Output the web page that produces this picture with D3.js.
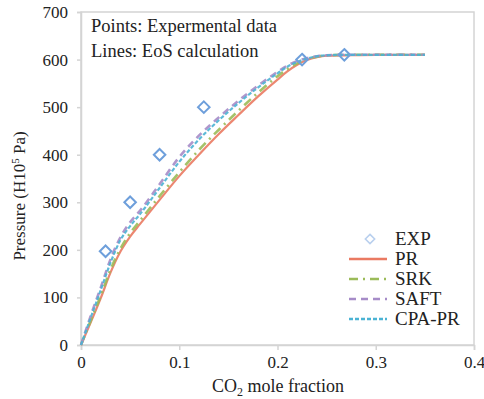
<!DOCTYPE html>
<html>
<head>
<meta charset="utf-8">
<script src="https://cdn.jsdelivr.net/npm/d3@7"></script>
<style>
  body { margin: 0; background: #fff; }
  svg text { font-family: "Liberation Serif", "DejaVu Serif", serif; fill: #222; }
</style>
</head>
<body>
<div id="chart"></div>
<script>
// Data
const expX = [0.025, 0.05, 0.08, 0.125, 0.225, 0.268];
const expP = [197, 300, 400, 500, 600, 610];

const calcX = [0, 0.01, 0.02, 0.03, 0.04, 0.05, 0.06, 0.08, 0.1, 0.12, 0.14, 0.16, 0.18, 0.2, 0.21, 0.22, 0.23, 0.24, 0.25, 0.27, 0.3, 0.35];
const prP   = [0, 48, 98, 152, 196, 228, 254, 305, 355, 400, 443, 483, 522, 558, 575, 589, 599, 605, 608, 609, 610, 610];
const srkP  = [0, 52, 103, 158, 202, 235, 261, 313, 363, 410, 452, 492, 530, 565, 580, 592, 601, 606, 609, 610, 610, 610];
const saftP = [0, 62, 120, 180, 226, 258, 282, 338, 395, 440, 478, 513, 545, 574, 587, 597, 603, 607, 609, 610, 610, 610];
const cpaP  = [0, 58, 115, 173, 220, 250, 275, 330, 385, 432, 472, 508, 541, 571, 585, 595, 602, 607, 609, 610, 610, 610];

const xTicks = [0, 0.1, 0.2, 0.3, 0.4];
const yTicks = [0, 100, 200, 300, 400, 500, 600, 700];

const series = [
  { name: 'PR',     values: prP,   color: '#ea7a62', dash: null,      width: 2.2 },
  { name: 'SRK',    values: srkP,  color: '#9bbb59', dash: '9,5,2,5', width: 2.6 },
  { name: 'SAFT',   values: saftP, color: '#a68cc8', dash: '7,5',     width: 2.6 },
  { name: 'CPA-PR', values: cpaP,  color: '#4bb3d4', dash: '4,2',     width: 2.2 }
];

const serif = 'Liberation Serif, DejaVu Serif, serif';

//Chart dimensions
const margin = { top: 12, bot: 54, left: 81, right: 10 };
const width = 474 - margin.left;
const height = 345 - margin.top;

// Scale
const xScale = d3.scaleLinear().domain([0, 0.4]).range([0, width]);
const yScale = d3.scaleLinear().domain([0, 700]).range([height, 0]);

const svg = d3.select('#chart').append('svg')
  .attr('width', 484)
  .attr('height', 399)
  .attr('font-family', serif);

const g = svg.append('g')
  .attr('transform', `translate(${margin.left}, ${margin.top})`);

//Frame
g.append('rect')
  .attr('width', width)
  .attr('height', height)
  .attr('fill', 'none')
  .attr('stroke', '#d4d4d4')
  .attr('stroke-width', 1.5);

//Axes
const xAxis = d3.axisBottom(xScale).tickValues(xTicks).tickSize(5).tickPadding(6)
  .tickFormat(d => d === 0 ? '0' : d3.format('.1f')(d));
const yAxis = d3.axisLeft(yScale).tickValues(yTicks).tickSize(4).tickPadding(9);

const xAxisGroup = g.append('g')
  .attr('transform', `translate(0, ${height})`)
  .call(xAxis);
const yAxisGroup = g.append('g').call(yAxis);

[xAxisGroup, yAxisGroup].forEach(ax => {
  ax.attr('font-family', serif).attr('font-size', 17);
  ax.select('.domain').attr('stroke', '#d4d4d4').attr('stroke-width', 1.5);
  ax.selectAll('.tick line').attr('stroke', '#d4d4d4').attr('stroke-width', 1.5);
  ax.selectAll('.tick text').attr('fill', '#222');
});

//Lines
const line = d3.line()
  .x(d => xScale(d[0]))
  .y(d => yScale(d[1]))
  .curve(d3.curveMonotoneX);

series.forEach(s => {
  g.append('path')
    .attr('d', line(calcX.map((x, i) => [x, s.values[i]])))
    .attr('fill', 'none')
    .attr('stroke', s.color)
    .attr('stroke-width', s.width)
    .attr('stroke-dasharray', s.dash)
    .attr('opacity', 0.9);
});

//Experimental points
const diamond = d3.symbol().type(d3.symbolDiamond2).size(85);
g.selectAll('.exp')
  .data(expX.map((x, i) => [x, expP[i]]))
  .join('path')
  .attr('class', 'exp')
  .attr('d', diamond)
  .attr('transform', d => `translate(${xScale(d[0])}, ${yScale(d[1])})`)
  .attr('fill', 'none')
  .attr('stroke', '#6e9fdb')
  .attr('stroke-width', 2);

//Annotations
g.append('text').attr('x', 10).attr('y', 20).style('font-size', '18.5px')
  .text('Points: Expermental data');
g.append('text').attr('x', 10).attr('y', 45).style('font-size', '18.5px')
  .text('Lines: EoS calculation');

//Legend
const legend = g.append('g').attr('transform', `translate(${349 - margin.left}, ${239 - margin.top})`);
legend.append('path')
  .attr('d', d3.symbol().type(d3.symbolDiamond2).size(55))
  .attr('transform', 'translate(21, 0)')
  .attr('fill', 'none')
  .attr('stroke', '#b9d0ee')
  .attr('stroke-width', 1.6);
legend.append('text').attr('x', 46).attr('y', 6).style('font-size', '19px').text('EXP');

series.forEach((s, i) => {
  const yy = 20 + i * 20;
  legend.append('line')
    .attr('x1', 0).attr('x2', 38)
    .attr('y1', yy).attr('y2', yy)
    .attr('stroke', s.color)
    .attr('stroke-width', 2.6)
    .attr('stroke-dasharray', s.dash);
  legend.append('text').attr('x', 46).attr('y', yy + 6).style('font-size', '19px').text(s.name);
});

//Axis titles
const xTitle = svg.append('text')
  .attr('x', 278).attr('y', 392)
  .attr('text-anchor', 'middle')
  .style('font-size', '18px');
xTitle.append('tspan').text('CO');
xTitle.append('tspan').attr('dy', 4).style('font-size', '12px').text('2');
xTitle.append('tspan').attr('dy', -4).text(' mole fraction');

const yTitle = svg.append('text')
  .attr('transform', 'translate(25, 196) rotate(-90)')
  .attr('text-anchor', 'middle')
  .style('font-size', '17px');
yTitle.append('tspan').text('Pressure (H10');
yTitle.append('tspan').attr('dy', -6).style('font-size', '11px').text('5');
yTitle.append('tspan').attr('dy', 6).text(' Pa)');
</script>
</body>
</html>
